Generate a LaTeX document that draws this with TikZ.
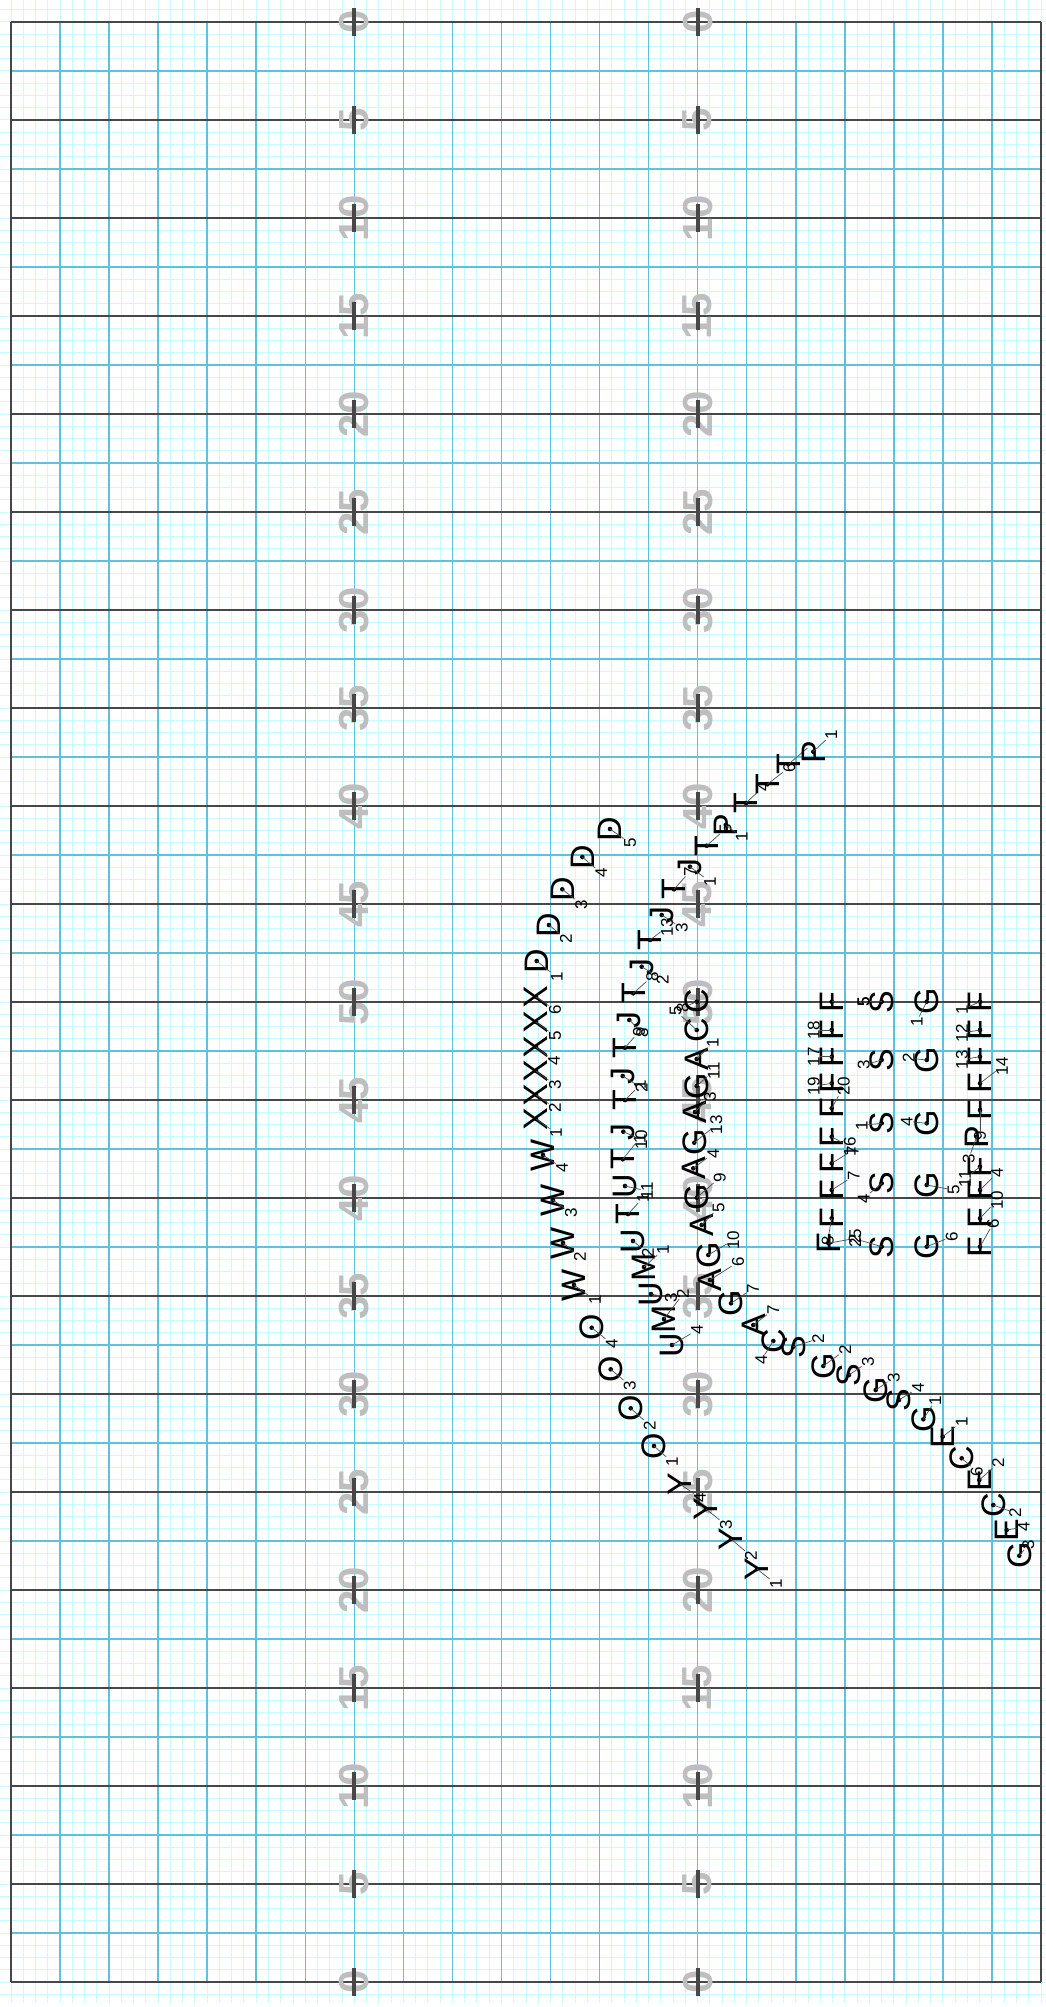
\documentclass[tikz,border=0pt]{standalone}
\usepackage{fontspec}
\setmainfont{Liberation Sans}
\definecolor{fineC}{HTML}{C8FBFF}
\definecolor{blueC}{HTML}{5EC2DC}
\definecolor{darkC}{HTML}{474747}
\definecolor{numC}{HTML}{BEBEBE}
\newcommand\plyr[7]{%
  \node[plr] (#1) at (#2,#3) {#4};
  \fill[black] (#1.center) circle[radius=2.3pt];
  \node[lab] (#1l) at ({#2+#6},{#3+#7}) {#5};
  \draw[pinl] (#1.center) -- (#1l);
}
\begin{document}
\begin{tikzpicture}[x=1pt,y=-1pt,
  plr/.style={rotate=90,inner sep=0pt,font=\fontsize{34}{34}\selectfont},
  lab/.style={rotate=90,inner sep=0.3pt,font=\fontsize{17}{17}\selectfont},
  pinl/.style={draw=black!70,line width=0.7pt},
  fine/.style={draw=fineC,line width=1pt},
  bline/.style={draw=blueC,line width=1.5pt},
  dline/.style={draw=darkC,line width=1.5pt},
  hash/.style={draw=darkC,line width=4pt},
  num/.style={rotate=90,text=numC,inner sep=0pt,font=\fontsize{42}{42}\selectfont\bfseries}]
\useasboundingbox (0,0) rectangle (1045,2007);
\fill[white] (0,0) rectangle (1045,2007);
% fine grid
\begin{scope}
\clip (0,0) rectangle (1045,2003);
\foreach \k in {-1,...,86} \draw[fine] ({11+12.2619*\k},0) -- ({11+12.2619*\k},2003);
\foreach \k in {-2,...,163} \draw[fine] (0,{22+12.25*\k}) -- (1045,{22+12.25*\k});
\end{scope}
% blue grid
\foreach \k in {1,...,20} \draw[bline] ({11+49.0476*\k},22) -- ({11+49.0476*\k},1982);
\foreach \k in {0,...,19} \draw[bline] (11,{71+98*\k}) -- (1041,{71+98*\k});
% yard lines and border
\foreach \k in {0,...,20} \draw[dline] (11,{22+98*\k}) -- (1041,{22+98*\k});
\draw[dline] (11,22) -- (11,1982);
\draw[dline] (1041,22) -- (1041,1982);
% numbers and hash marks
\foreach \k in {0,...,20} {
  \pgfmathtruncatemacro\t{5*min(\k,20-\k)}
  \node[num] (nl\k) at (354.3,{22+98*\k}) {\t};
  \node[num] (nr\k) at (697.7,{22+98*\k}) {\t};
  \draw[hash] (354.3,{8+98*\k}) -- (354.3,{36+98*\k});
  \draw[hash] (697.7,{8+98*\k}) -- (697.7,{36+98*\k});
}
% D
\plyr{d1}{536.7}{961}{D}{1}{20}{16}
\plyr{d2}{549}{925}{D}{2}{17}{14}
\plyr{d3}{562.3}{889.3}{D}{3}{19}{15}
\plyr{d4}{582.3}{857}{D}{4}{19}{16}
\plyr{d5}{610}{829}{D}{5}{20}{14}
% X
\plyr{x6}{536}{997}{X}{6}{19}{13}
\plyr{x5}{536}{1022}{X}{5}{19}{14}
\plyr{x4}{536}{1047}{X}{4}{18}{14}
\plyr{x3}{536}{1071}{X}{3}{19}{14}
\plyr{x2}{536}{1095}{X}{2}{19}{13}
\plyr{x1}{536}{1119}{X}{1}{20}{14}
% W
\plyr{w4}{543}{1155}{W}{4}{19}{13}
\plyr{w3}{553}{1200}{W}{3}{18}{13}
\plyr{w2}{563}{1243}{W}{2}{17}{14}
\plyr{w1}{574}{1285}{W}{1}{21}{15}
% O
\plyr{o4}{591.7}{1327.7}{O}{4}{20}{16}
\plyr{o3}{610.7}{1369.3}{O}{3}{19}{16}
\plyr{o2}{630.7}{1408.3}{O}{2}{19}{17}
\plyr{o1}{654}{1446}{O}{1}{18}{16}
% Y
\plyr{y4}{680}{1484}{Y}{4}{20}{14}
\plyr{y3}{706}{1509}{Y}{3}{20}{16}
\plyr{y2}{731}{1539}{Y}{2}{20}{17}
\plyr{y1}{757}{1569}{Y}{1}{19}{15}
% U / M
\plyr{u1}{625}{1186}{U}{11}{22}{5}
\plyr{ut}{628}{1214}{T}{1}{15}{-16}
\plyr{u2}{633}{1241}{U}{2}{15}{12}
\plyr{m1}{644}{1267}{M}{1}{19}{-17}
\plyr{u3}{651}{1294}{U}{3}{20}{4}
\plyr{m2}{664}{1319}{M}{2}{19}{-25}
\plyr{u4}{672}{1345}{U}{4}{25}{-15}
% T / J
\plyr{tj1}{629.3}{1020}{J}{8}{13}{13}
\plyr{tj2}{625}{1047.7}{T}{9}{14}{-16}
\plyr{tj3}{622.7}{1076}{J}{2}{19}{12}
\plyr{tj4}{625}{1100}{T}{1}{15}{-15}
\plyr{tj5}{623.3}{1131.7}{J}{10}{18}{8}
\plyr{tj6}{622.7}{1159.3}{T}{1}{17}{-21}
\plyr{tj7}{641.7}{966.7}{J}{2}{21}{13}
\plyr{tj8}{633.3}{993.3}{T}{8}{19}{-17}
\plyr{tj9}{661.7}{915}{J}{3}{20}{13}
\plyr{tj10}{650}{940}{T}{13}{17}{-13}
\plyr{tj11}{690}{866.7}{J}{1}{20}{15}
\plyr{tj12}{674}{889.3}{T}{7}{16}{-18}
\plyr{tj14}{706.7}{845.7}{T}{5}{19}{-17}
\plyr{tj13}{725.7}{825}{P}{1}{16}{12}
\plyr{tj15}{746}{803}{T}{4}{17}{-16}
\plyr{tj16}{767.3}{784.3}{T}{6}{22}{-17}
\plyr{tj17}{788.3}{764.3}{T}{}{20}{-17}
\plyr{tj18}{813.3}{751.7}{P}{1}{18}{-17}
% A / C column
\plyr{c1}{696.7}{1001.7}{C}{8}{-14}{6}
\plyr{c2}{696.7}{1030}{C}{5}{-21}{-19}
\plyr{a1}{696.7}{1059}{A}{1}{16}{-16}
\plyr{c3}{696.7}{1086}{G}{11}{17}{-15}
\plyr{a2}{695}{1112}{A}{3}{15}{-15}
\plyr{c4}{694.3}{1142.7}{G}{13}{22}{-18}
\plyr{a3}{693.3}{1168.3}{A}{4}{20}{-15}
\plyr{c5}{696.7}{1197.7}{G}{9}{23}{-20}
\plyr{a4}{701.7}{1225}{A}{5}{17}{-17}
\plyr{c6}{708.3}{1255}{G}{10}{25}{-15}
\plyr{a5}{710}{1280}{A}{6}{28}{-18}
\plyr{c7}{731}{1303.3}{G}{7}{22}{-15}
\plyr{a6}{753.3}{1325}{A}{7}{20}{-15}
\plyr{c8}{773.3}{1341}{C}{4}{-12}{19}
% S/G diagonal
\plyr{s1}{793.3}{1346.7}{S}{2}{25}{-8}
\plyr{g1}{823.3}{1366}{G}{2}{22}{-16}
\plyr{s2}{849}{1375}{S}{3}{19}{-13}
\plyr{g2}{875.7}{1390}{G}{3}{18}{-12}
\plyr{s3}{899}{1400}{S}{4}{19}{-12}
\plyr{g3}{923.3}{1419.3}{G}{1}{12}{-19}
\plyr{e1}{942.7}{1436.7}{E}{1}{19}{-15}
\plyr{cc1}{961.7}{1458.3}{C}{6}{15}{13}
\plyr{e2}{979.3}{1480}{E}{2}{19}{-17}
\plyr{cc2}{993.3}{1505}{C}{2}{22}{8}
\plyr{e3}{1006.7}{1530}{E}{4}{17}{-3}
\plyr{g4}{1019.3}{1555.7}{G}{3}{9}{-11}
% F/S/G block
\plyr{fl1}{831.7}{1001.7}{F}{5}{32}{0}
\plyr{fl2}{831.7}{1030}{F}{18}{-18}{0}
\plyr{fl3}{831.7}{1056.7}{F}{17}{-18}{0}
\plyr{fl4}{831.7}{1083.3}{F}{19}{-18}{3}
\plyr{fl5}{831.7}{1108.3}{F}{20}{12}{-22}
\plyr{fl6}{831.7}{1136.7}{F}{16}{18}{10}
\plyr{fl7}{831.7}{1163.3}{F}{7}{21}{-13}
\plyr{fl8}{831.7}{1190}{F}{7}{22}{-14}
\plyr{fl9}{831.7}{1218.3}{F}{8}{-4}{22}
\plyr{fl10}{828.3}{1243.3}{F}{25}{27}{-5}
\plyr{sa1}{881.7}{1001.7}{S}{5}{-18}{0}
\plyr{sa2}{881.7}{1060}{S}{3}{-18}{5}
\plyr{sa3}{881.7}{1123.3}{S}{1}{-20}{2}
\plyr{sa4}{881.7}{1183.3}{S}{4}{-18}{15}
\plyr{sa5}{881.7}{1246.7}{S}{2}{-27}{-8}
\plyr{ga1}{926.7}{1001.7}{G}{1}{-10}{20}
\plyr{ga2}{926.7}{1060}{G}{2}{-18}{-2}
\plyr{ga3}{926.7}{1123.3}{G}{4}{-20}{-2}
\plyr{ga4}{926.7}{1185}{G}{5}{27}{5}
\plyr{ga5}{926.7}{1246.7}{G}{6}{25}{-10}
\plyr{fr1}{980}{1001.7}{F}{1}{-18}{8}
\plyr{fr2}{980}{1030}{F}{12}{-18}{3}
\plyr{fr3}{980}{1056.7}{F}{13}{-18}{3}
\plyr{fr4}{980}{1083.3}{F}{14}{22}{-17}
\plyr{fr5}{980}{1110}{F}{9}{0}{26}
\plyr{fr6}{976.7}{1136.7}{P}{3}{-8}{22}
\plyr{fr7}{980}{1166.7}{F}{11}{-15}{12}
\plyr{fr8}{980}{1190}{F}{4}{17}{-17}
\plyr{fr9}{980}{1218.3}{F}{10}{17}{-18}
\plyr{fr10}{980}{1246.7}{F}{6}{13}{-23}
\end{tikzpicture}
\end{document}
